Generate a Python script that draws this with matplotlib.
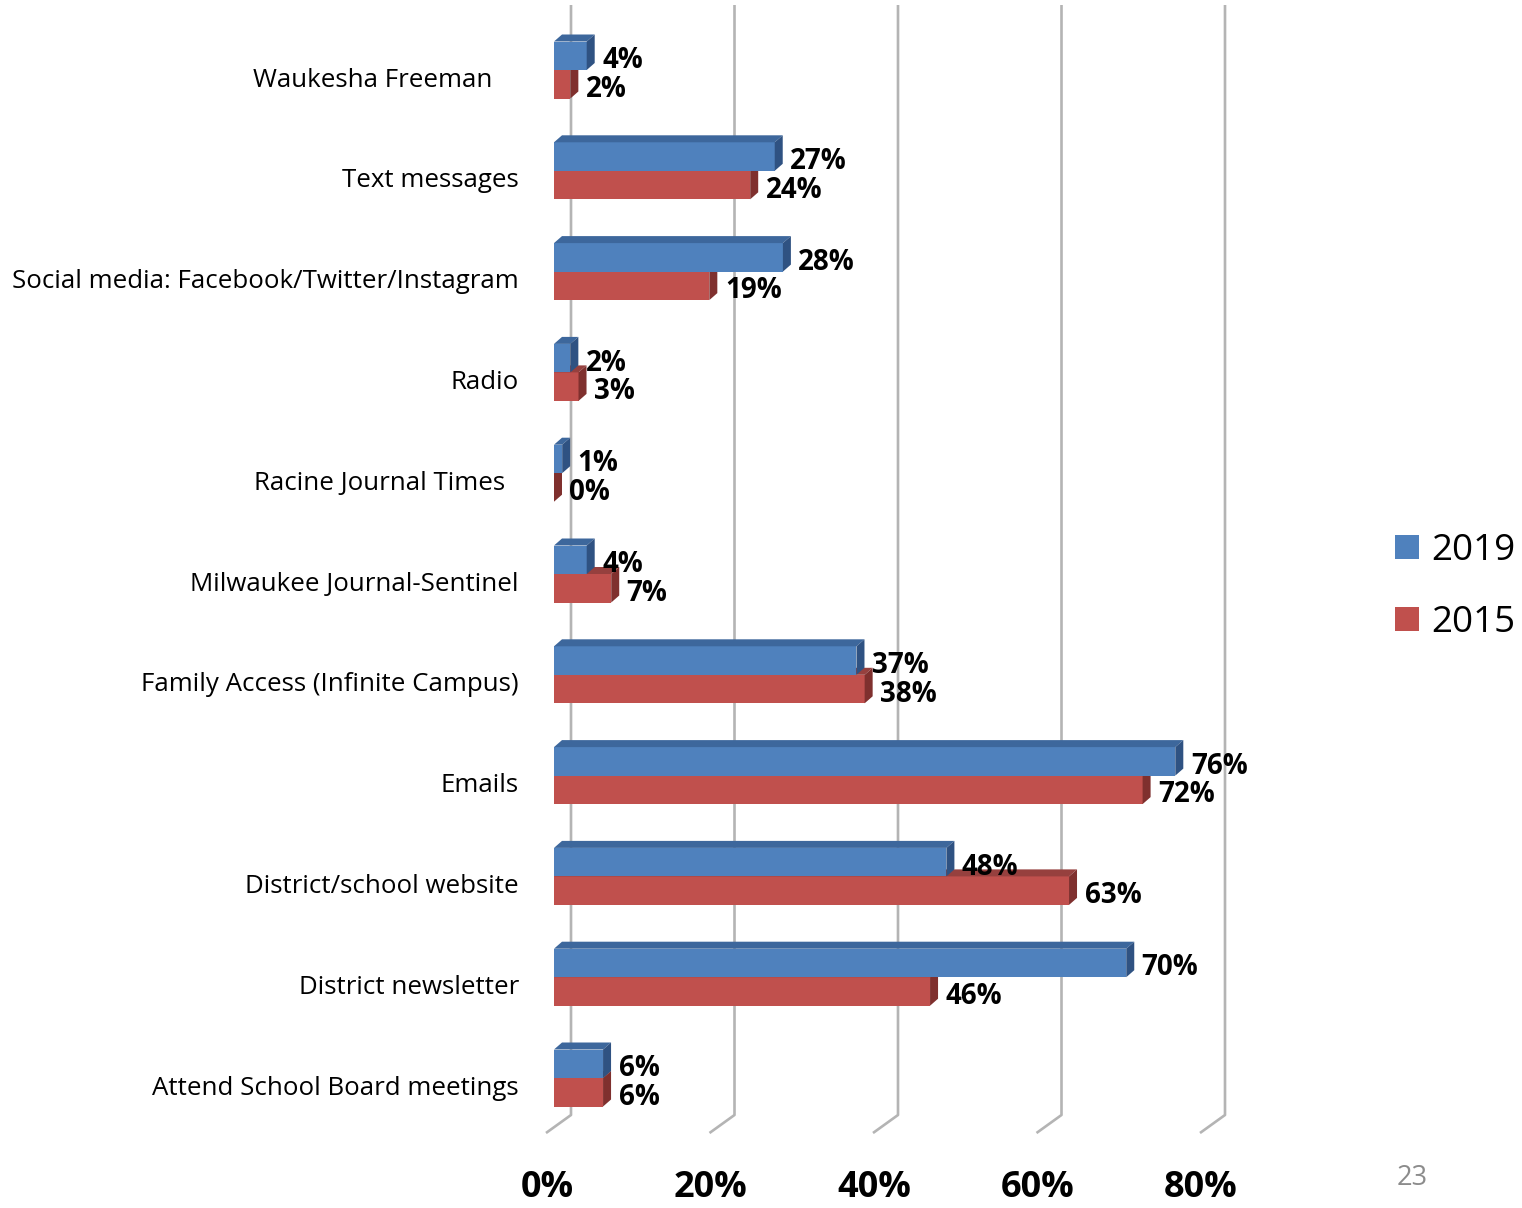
import matplotlib
matplotlib.use("Agg")
import matplotlib.pyplot as plt
from matplotlib.patches import Polygon, Patch

plt.rcParams['font.family'] = ['Open Sans', 'DejaVu Sans']

# ---------- data ----------
categories = ["Waukesha Freeman    ", "Text messages", "Social media: Facebook/Twitter/Instagram",
              "Radio", "Racine Journal Times  ", "Milwaukee Journal-Sentinel",
              "Family Access (Infinite Campus)", "Emails", "District/school website",
              "District newsletter", "Attend School Board meetings"]
v2019 = [4, 27, 28, 2, 1, 4, 37, 76, 48, 70, 6]
v2015 = [2, 24, 19, 3, 0, 7, 38, 72, 63, 46, 6]
xticks = [0, 20, 40, 60, 80]
series = ["2019", "2015"]

# ---------- colours ----------
blue = ("#4F81BD", "#3D679C", "#2F5282")   # front, top, side
red = ("#C0504D", "#96403E", "#7F302E")
grid_c = "#B4B4B4"

# ---------- geometry (px per unit) ----------
PX = 8.175     # pixels per percent
ROW = 100.8    # pixels per category
H = 28.5 / ROW
DX = 8 / PX
DY = -7 / ROW

fig = plt.figure(figsize=(15.22, 12.08), dpi=100)
ax = fig.add_axes([0, 0, 1, 1])
ax.set_xlim(-554 / PX, (1522 - 554) / PX)
ax.set_ylim((1208 - 70) / ROW, -70 / ROW)
ax.axis("off")

# back gridlines + floor edge
for t in xticks:
    xb = t + 17 / PX
    ax.plot([xb, xb, t - 8 / PX], [-65 / ROW, 1045 / ROW, 1063 / ROW],
            color=grid_c, lw=1.9, zorder=1, solid_capstyle="butt")


def bar3d(yc, val, cols, z):
    y_top, y_bot = yc - H / 2, yc + H / 2
    ax.barh(yc, val, height=H, left=0, color=cols[0], zorder=z, linewidth=0)
    top = [(0, y_top), (val, y_top), (val + DX, y_top + DY), (DX, y_top + DY)]
    side = [(val, y_top), (val, y_bot), (val + DX, y_bot + DY), (val + DX, y_top + DY)]
    ax.add_patch(Polygon(top, closed=True, fc=cols[1], ec="none", zorder=z))
    ax.add_patch(Polygon(side, closed=True, fc=cols[2], ec="none", zorder=z))


for i, (b, r) in enumerate(zip(v2019, v2015)):
    bar3d(i + H / 2, r, red, 2)
    bar3d(i - H / 2, b, blue, 3)

# value labels
off = 15.5 / PX
for i, (b, r) in enumerate(zip(v2019, v2015)):
    ax.text(b + off, i - H / 2 + 0.05, f"{b}%", ha="left", va="center",
            fontsize=20, fontweight="bold", zorder=5)
    ax.text(r + off, i + H / 2 + 0.05, f"{r}%", ha="left", va="center",
            fontsize=20, fontweight="bold", zorder=5)

# category labels
for i, c in enumerate(categories):
    ax.text(-35 / PX, i + 0.10, c, ha="right", va="center", fontsize=18.6)

# x tick labels
for t in xticks:
    ax.text(t - 7 / PX, (1188 - 70) / ROW, f"{t}%", ha="center", va="center",
            fontsize=26, fontweight="bold")

# page number
ax.text((1412 - 554) / PX, (1178 - 70) / ROW, "23", ha="center", va="center",
        fontsize=19.5, color="#8C8C8C")

# legend
handles = [Patch(fc=blue[0], ec="none"), Patch(fc=red[0], ec="none")]
fig.legend(handles, series, loc="center left", bbox_to_anchor=(1395 / 1522, 1 - 587 / 1208),
           frameon=False, fontsize=26.5, handlelength=0.65, handleheight=0.65,
           handletextpad=0.33, labelspacing=0.98, borderpad=0, borderaxespad=0)

fig.savefig("out.png", dpi=100)
